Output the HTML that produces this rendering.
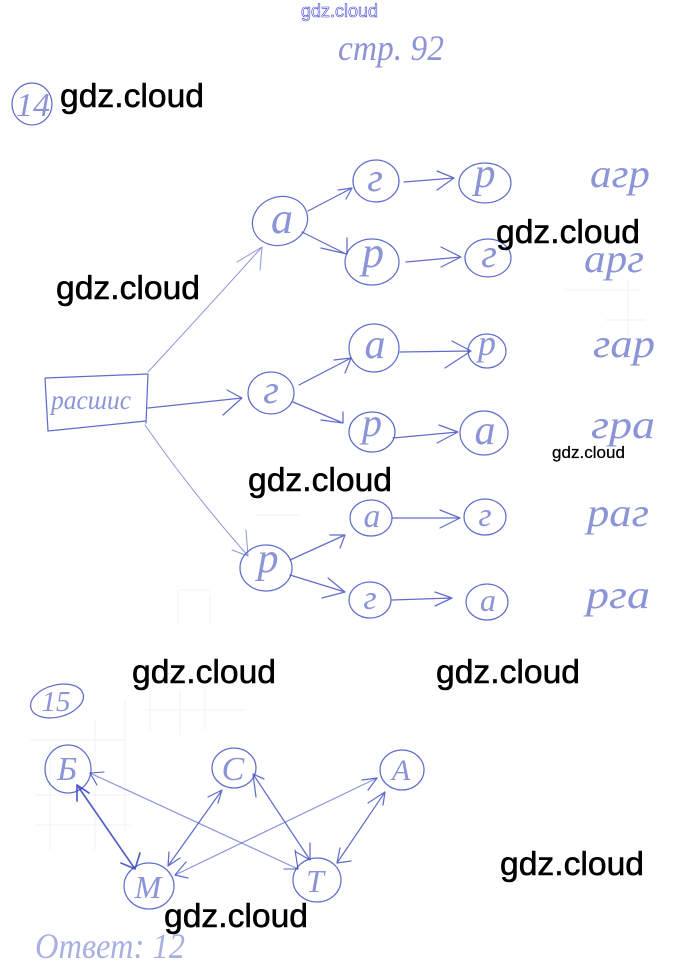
<!DOCTYPE html>
<html><head><meta charset="utf-8"><style>
html,body{margin:0;padding:0;background:#fff}
svg{display:block}
.l{fill:none;stroke:#4453c2;stroke-width:1.25;stroke-linecap:round;stroke-linejoin:round;opacity:.85}
.t{fill:none;stroke:#5c6ac8;stroke-width:1;stroke-linecap:round;opacity:.7}
.b{fill:none;stroke:#3444bd;stroke-width:1.7;stroke-linecap:round;stroke-linejoin:round;opacity:.85}
.g{fill:none;stroke:#f0f2f7;stroke-width:1}
.h{font-family:"Liberation Serif",serif;font-style:italic;fill:#5563c4;text-anchor:middle;opacity:.68}
.w{font-family:"Liberation Sans",sans-serif;fill:#000;font-size:33px;stroke:#000;stroke-width:.55}
</style></head><body>
<svg width="678" height="980" viewBox="0 0 678 980" xmlns="http://www.w3.org/2000/svg">
<rect width="678" height="980" fill="#fff"/>
<path class="g" d="M30 740H125M35 795H135M35 825H130M50 745V850M95 720V850M125 700V830M145 710H245M150 690V730M180 690V735M205 685V730M180 590H210M178 590V625M210 595V625M255 515H300M565 290H640M628 280V340M605 320H645M510 170V200"/>

<!-- tree -->
<path class="l" d="M46 378L148 374M45 378L48 431M48 431L146 421M148 374L146 423"/>
<text class="h" x="91" y="409" font-size="27" textLength="80" lengthAdjust="spacingAndGlyphs">расшис</text>

<ellipse class="l" cx="280" cy="221" rx="28" ry="24" transform="rotate(-20 280 221)"/>
<ellipse class="l" cx="376" cy="181" rx="23" ry="21"/>
<ellipse class="l" cx="485" cy="183" rx="26" ry="20"/>
<ellipse class="l" cx="372" cy="262" rx="27" ry="23"/>
<ellipse class="l" cx="488" cy="258" rx="23" ry="19"/>
<ellipse class="l" cx="374" cy="348" rx="25" ry="24"/>
<ellipse class="l" cx="487" cy="351" rx="19" ry="17"/>
<ellipse class="l" cx="271" cy="393" rx="23" ry="21"/>
<ellipse class="l" cx="372" cy="432" rx="23" ry="20"/>
<ellipse class="l" cx="484" cy="433" rx="24" ry="22"/>
<ellipse class="l" cx="266" cy="568" rx="26" ry="23"/>
<ellipse class="l" cx="371" cy="518" rx="21" ry="18"/>
<ellipse class="l" cx="485" cy="517" rx="21" ry="18"/>
<ellipse class="l" cx="370" cy="600" rx="21" ry="18"/>
<ellipse class="l" cx="487" cy="602" rx="21" ry="18"/>

<text class="h" x="282" y="233" font-size="44">а</text>
<text class="h" x="375" y="191" font-size="40">г</text>
<text class="h" x="485" y="187" font-size="42">р</text>
<text class="h" x="373" y="267" font-size="44">р</text>
<text class="h" x="489" y="267" font-size="40">г</text>
<text class="h" x="375" y="358" font-size="42">а</text>
<text class="h" x="487" y="355" font-size="36">р</text>
<text class="h" x="271" y="403" font-size="40">г</text>
<text class="h" x="372" y="436" font-size="40">р</text>
<text class="h" x="485" y="444" font-size="42">а</text>
<text class="h" x="268" y="572" font-size="42">р</text>
<text class="h" x="372" y="527" font-size="34">а</text>
<text class="h" x="485" y="526" font-size="34">г</text>
<text class="h" x="370" y="609" font-size="34">г</text>
<text class="h" x="488" y="611" font-size="32">а</text>

<path class="l" d="M308 211L352 188M338 190L352 188L346 199"/>
<path class="l" d="M302 232L346 254M347 238L347 254L321 248"/>
<path class="l" d="M404 182L454 178M437 171L454 178L437 190"/>
<path class="l" d="M406 262L461 257M441 247L461 257L441 267"/>
<path class="t" d="M148 372Q210 305 262 247M237 262L262 247L260 270"/>
<path class="l" d="M148 408L242 398M227 390L242 398L223 415"/>
<path class="l" d="M299 385L351 358M334 360L351 358L345 373"/>
<path class="l" d="M400 352L471 351M452 341L471 351L445 368"/>
<path class="l" d="M293 402L343 423M343 412L343 423L321 420"/>
<path class="l" d="M393 438L458 432M439 425L458 432L437 443"/>
<path class="t" d="M145 425Q190 490 248 556M246 530L248 556L232 550"/>
<path class="l" d="M290 560L345 535M330 535L345 535L340 548"/>
<path class="l" d="M290 575L345 592M328 578L345 592L322 598"/>
<path class="l" d="M392 518L460 518M440 510L460 518L440 528"/>
<path class="l" d="M392 600L452 598M435 592L452 598L435 606"/>

<!-- results -->
<text class="h" x="620" y="187" font-size="40" textLength="60" lengthAdjust="spacingAndGlyphs">агр</text>
<text class="h" x="614" y="272" font-size="40" textLength="60" lengthAdjust="spacingAndGlyphs">арг</text>
<text class="h" x="624" y="357" font-size="40" textLength="62" lengthAdjust="spacingAndGlyphs">гар</text>
<text class="h" x="623" y="438" font-size="40" textLength="64" lengthAdjust="spacingAndGlyphs">гра</text>
<text class="h" x="618" y="526" font-size="40" textLength="62" lengthAdjust="spacingAndGlyphs">раг</text>
<text class="h" x="618" y="608" font-size="40" textLength="64" lengthAdjust="spacingAndGlyphs">рга</text>

<!-- header -->
<text class="h" x="391" y="60" font-size="36" textLength="106" lengthAdjust="spacingAndGlyphs">стр. 92</text>
<ellipse class="l" cx="32" cy="104" rx="20" ry="21"/>
<text class="h" x="33" y="116" font-size="34">14</text>

<!-- graph -->
<ellipse class="l" cx="57" cy="701" rx="27" ry="16" transform="rotate(-15 57 701)"/>
<text class="h" x="56" y="711" font-size="29">15</text>
<ellipse class="l" cx="68" cy="769" rx="23" ry="24"/>
<ellipse class="l" cx="234" cy="768" rx="22" ry="20"/>
<ellipse class="l" cx="402" cy="770" rx="22" ry="20"/>
<ellipse class="l" cx="149" cy="886" rx="25" ry="23"/>
<ellipse class="l" cx="317" cy="880" rx="24" ry="22"/>
<text class="h" x="67" y="780" font-size="34">Б</text>
<text class="h" x="233" y="780" font-size="34">С</text>
<text class="h" x="401" y="780" font-size="30">А</text>
<text class="h" x="148" y="898" font-size="32">М</text>
<text class="h" x="315" y="892" font-size="32">Т</text>

<path class="b" d="M77 785L135 869M77 801L77 785L89 793M121 863L135 869L140 853"/>
<path class="t" style="stroke-width:1.2" d="M90 773L298 869"/>
<path class="b" style="stroke-width:1.1" d="M104 772L90 773L97 785M295 850L298 869L284 869"/>
<path class="l" d="M222 790L168 866M208 797L222 790L218 803M169 852L168 866L180 858"/>
<path class="l" d="M253 774L310 860M264 779L253 774L256 797M310 843L310 860L296 852"/>
<path class="t" style="stroke-width:1.2" d="M377 778L175 875"/>
<path class="l" d="M362 780L377 778L368 790M188 878L175 875L186 862"/>
<path class="l" d="M385 792L337 863M368 803L385 792L383 805M340 848L337 863L351 861"/>

<text class="h" x="110" y="958" font-size="36" textLength="150" lengthAdjust="spacingAndGlyphs" style="opacity:.5">Ответ: 12</text>

<!-- watermarks -->
<text x="301" y="17" font-family="Liberation Sans,sans-serif" font-size="18" fill="#fff" stroke="#3d3fd0" stroke-width=".6" textLength="77" lengthAdjust="spacingAndGlyphs">gdz.cloud</text>
<text class="w" x="60" y="107" textLength="144" lengthAdjust="spacingAndGlyphs">gdz.cloud</text>
<text class="w" x="496" y="243" textLength="144" lengthAdjust="spacingAndGlyphs">gdz.cloud</text>
<text class="w" x="56" y="299" textLength="144" lengthAdjust="spacingAndGlyphs">gdz.cloud</text>
<text class="w" x="248" y="491" textLength="144" lengthAdjust="spacingAndGlyphs">gdz.cloud</text>
<text class="w" x="132" y="683" textLength="144" lengthAdjust="spacingAndGlyphs">gdz.cloud</text>
<text class="w" x="436" y="683" textLength="144" lengthAdjust="spacingAndGlyphs">gdz.cloud</text>
<text class="w" x="500" y="875" textLength="144" lengthAdjust="spacingAndGlyphs">gdz.cloud</text>
<text class="w" x="164" y="927" textLength="144" lengthAdjust="spacingAndGlyphs">gdz.cloud</text>
<text class="w" x="552" y="458" style="font-size:17px;stroke-width:.25" textLength="73" lengthAdjust="spacingAndGlyphs">gdz.cloud</text>
</svg>
</body></html>
